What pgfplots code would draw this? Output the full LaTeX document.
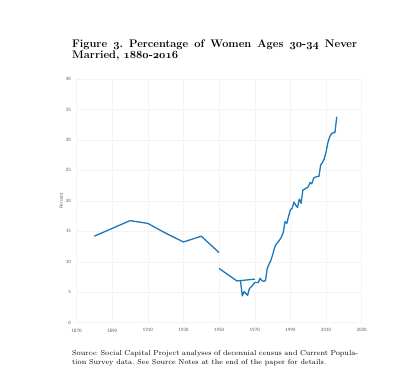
\documentclass[border=0pt]{standalone}
\usepackage{fontspec}
\usepackage{pgfplots}
\pgfplotsset{compat=1.18}
\newfontfamily\tickfont{Carlito}
\newcommand\osf[1]{{\usefont{OML}{cmm}{b}{it}#1}}
\definecolor{lineblue}{RGB}{28,120,188}
\definecolor{tickgray}{RGB}{95,95,95}
\frenchspacing
\begin{document}
\begin{tikzpicture}[x=1pt,y=1pt]
\useasboundingbox (0,0) rectangle (417,382);
\node[anchor=north west,inner sep=0pt] at (72,342.5) {\parbox{285pt}{\fontsize{11}{11.2}\selectfont\bfseries
Figure \osf{3}. Percentage of Women Ages \osf{30}-\osf{34} Never\linebreak
Married, \osf{1880}-\osf{2016}}};
\node[anchor=north west,inner sep=0pt] at (72,31.5) {\parbox{286pt}{\fontsize{7.2}{9}\selectfont
Source: Social Capital Project analyses of decennial census and Current Popula-\linebreak
tion Survey data. See Source Notes at the end of the paper for details.}};
\begin{axis}[
  at={(76.5pt,59.3pt)}, anchor=south west,
  scale only axis, width=285.2pt, height=243.7pt,
  xmin=1870, xmax=2030, ymin=0, ymax=40,
  xtick={1870,1890,...,2030}, ytick={0,5,...,40},
  axis line style={draw=none},
  major tick length=0pt,
  grid=major,
  major grid style={draw=gray!9, line width=0.5pt},
  /pgf/number format/assume math mode=true,
  /pgf/number format/1000 sep={},
  tick label style={font=\tickfont\fontsize{5}{6}\selectfont, text=tickgray},
  xticklabel style={yshift=-2.5pt},
  yticklabel style={xshift=-2pt},
  ylabel={Percent},
  ylabel style={font=\tickfont\fontsize{5}{6}\selectfont, text=tickgray, yshift=-4pt},
  clip=false,
]
\addplot[lineblue, line width=1.3pt, line join=round] coordinates {
(1880,14.2) (1900,16.75) (1910,16.3) (1920,14.7) (1930,13.25) (1940,14.2) (1950,11.5)
};
\addplot[lineblue, line width=1.3pt, line join=round] coordinates {
(1950,8.9) (1960,6.85) (1970,7.15)
};
\addplot[lineblue, line width=1.3pt, line join=round] coordinates {
(1962,6.9) (1963,4.4) (1964,5.1) (1965,4.8) (1966,4.5) (1967,5.6) (1968,5.9) (1969,6.2)
(1970,6.6) (1971,6.6) (1972,6.6) (1973,7.3) (1974,6.9) (1975,6.8) (1976,6.9) (1977,8.9)
(1978,9.6) (1979,10.2) (1980,11.1) (1981,12.2) (1982,12.9) (1983,13.2) (1984,13.6)
(1985,14.1) (1986,14.8) (1987,16.6) (1988,16.3) (1989,17.5) (1990,18.5) (1991,18.8)
(1992,19.8) (1993,19.3) (1994,18.9) (1995,20.3) (1996,19.6) (1997,21.8) (1998,21.9)
(1999,22.1) (2000,22.3) (2001,23.0) (2002,22.8) (2003,23.7) (2004,23.9) (2005,24.0)
(2006,24.0) (2007,25.9) (2008,26.3) (2009,26.9) (2010,28.0) (2011,29.5) (2012,30.5)
(2013,31.0) (2014,31.2) (2015,31.2) (2016,33.8)
};
\end{axis}
\end{tikzpicture}
\end{document}
